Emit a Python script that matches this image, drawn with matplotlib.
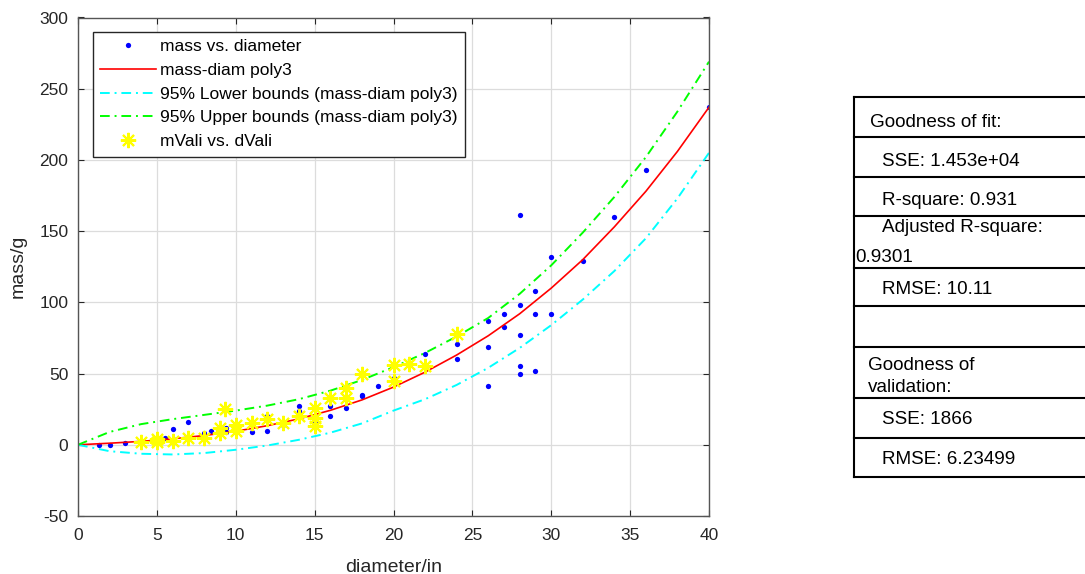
import matplotlib.pyplot as plt
from matplotlib.lines import Line2D

# measured samples: mass vs. diameter
diameter = [1.3, 2, 3, 5, 5.5, 6, 7, 8, 8.4, 9.4, 9.4, 10, 11, 11, 12, 12, 13, 14, 14,
            15, 15, 16, 16, 17, 18, 18, 19, 20, 22, 24, 24, 26, 26, 26, 27, 27,
            28, 28, 28, 28, 28, 29, 29, 29, 30, 30, 32, 34, 36, 40]
mass = [0, 0, 1, 4, 5, 11, 16, 8, 10, 12, 9, 10, 15, 9, 20, 10, 14, 27, 24,
        16, 13, 27, 20, 26, 35, 34, 41, 47, 64, 71, 60, 87, 69, 41, 92, 83,
        161, 98, 77, 55, 50, 108, 92, 52, 132, 92, 129, 160, 193, 237]

# validation samples
d_vali = [4, 5, 5, 6, 7, 8, 9, 9, 9.3, 10, 10, 11, 12, 13, 14, 15, 15, 15,
          16, 17, 17, 18, 20, 20, 21, 22, 24]
m_vali = [2, 4, 2, 3, 5, 5, 12, 8, 25, 14, 10, 15, 18, 15, 20, 26, 19, 13,
          33, 40, 33, 50, 56, 45, 57, 55, 78]

# poly3 fit and 95% bounds
curve_x = [0, 2, 4, 6, 8, 10, 12, 14, 16, 18, 20, 22, 24, 26, 28, 30, 32, 34, 36, 38, 40]
fit = [0, 1.1, 2.4, 4.2, 6.5, 9.5, 13.4, 18.2, 24.2, 31.5, 40.5, 51, 63, 76.5, 92,
       110, 130, 153, 178, 206, 237]
lower = [0, -4.5, -6.3, -6.8, -5.8, -3.5, -0.5, 3.5, 8.5, 15, 24, 32, 42, 54, 68,
         84, 102, 122, 145, 173, 205]
upper = [0, 9, 14.5, 18, 21, 24, 27.5, 32, 38, 45.5, 54.5, 64.5, 76, 89, 106,
         126, 149, 174, 202, 234, 269]

legend_labels = ["mass vs. diameter", "mass-diam poly3",
                 "95% Lower bounds (mass-diam poly3)",
                 "95% Upper bounds (mass-diam poly3)", "mVali vs. dVali"]

# goodness-of-fit panel, one entry per printed line
table_lines = ["Goodness of fit:", "SSE: 1.453e+04", "R-square: 0.931",
               "Adjusted R-square:", "0.9301", "RMSE: 10.11",
               "Goodness of", "validation:", "SSE: 1866", "RMSE: 6.23499"]

plt.rcParams["font.family"] = ["Liberation Sans", "DejaVu Sans"]
plt.rcParams["axes.unicode_minus"] = False
INK = "#262626"

W, H = 1085, 574
fig = plt.figure(figsize=(W / 100, H / 100), dpi=100)
ax = fig.add_axes([78 / W, (H - 516) / H, (709 - 78) / W, (516 - 17.5) / H])

dash_dot = (0, (5, 2.5, 1, 2.5))
ax.plot(diameter, mass, "o", color="#0000ff", ms=3.8, mec="none", label=legend_labels[0])
ax.plot(curve_x, fit, "-", color="#ff0000", lw=1.2, label=legend_labels[1])
ax.plot(curve_x, lower, color="#00ffff", lw=1.4, linestyle=dash_dot, label=legend_labels[2])
ax.plot(curve_x, upper, color="#00ff00", lw=1.4, linestyle=dash_dot, label=legend_labels[3])
ax.plot(d_vali, m_vali, linestyle="none", marker=(8, 2, 0), color="#ffff00",
        ms=11, mew=1.5, label=legend_labels[4])

ax.set_xlim(0, 40)
ax.set_ylim(-50, 300)
ax.set_xticks(range(0, 41, 5))
ax.set_yticks(range(-50, 301, 50))
ax.grid(True, color="#dcdcdc", lw=0.9)
ax.set_axisbelow(True)
ax.tick_params(direction="in", length=4, width=0.8, colors=INK, labelsize=12.5,
               top=True, right=True)
ax.tick_params(axis="x", pad=9)
ax.tick_params(axis="y", pad=7)
for s in ax.spines.values():
    s.set_color("#555555")
    s.set_linewidth(1.0)
ax.set_xlabel("diameter/in", fontsize=14, color=INK, va="center")
ax.set_ylabel("mass/g", fontsize=14, color=INK, va="center")
ax.xaxis.set_label_coords(0.5, (516 - 567) / 498.5)
ax.yaxis.set_label_coords((18 - 78) / 631, 0.5)

leg = ax.legend(loc="upper left", bbox_to_anchor=(15 / 631, 1 - 14 / 498.5),
                fontsize=12.5, handlelength=3.2, labelspacing=0.5,
                borderaxespad=0, fancybox=False, framealpha=1,
                edgecolor=INK, borderpad=0.42, handletextpad=0.25)
leg.get_frame().set_linewidth(1.0)

# table frame on the right
row_lines = [97, 137, 177, 216, 268, 306, 347, 398, 438, 477]
left = 854
for y in row_lines:
    fig.add_artist(Line2D([left / W, 1], [1 - y / H] * 2, color="black", lw=1.5))
fig.add_artist(Line2D([left / W] * 2, [1 - row_lines[0] / H, 1 - row_lines[-1] / H],
                      color="black", lw=1.5))
line_y = [120, 160, 198, 226, 255, 287, 363, 385, 418, 458]
line_x = [870, 882, 882, 882, 855, 882, 868, 868, 882, 882]
for txt, x, y in zip(table_lines, line_x, line_y):
    fig.text(x / W, 1 - y / H, txt, fontsize=13.6, color="black",
             va="center_baseline", ha="left")

fig.savefig("out.png", dpi=100)
